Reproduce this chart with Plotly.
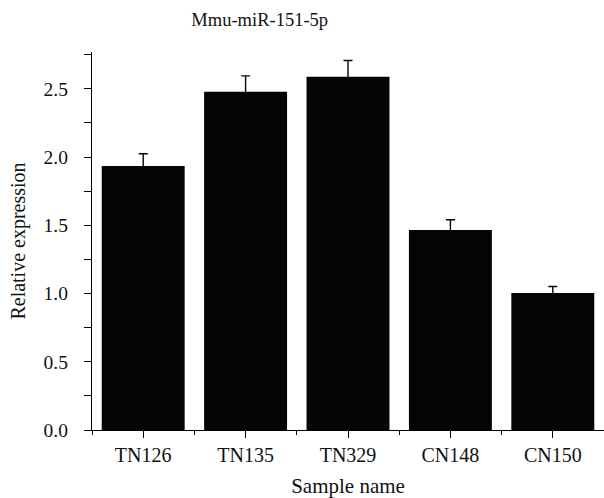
import plotly.graph_objects as go

categories = ["TN126", "TN135", "TN329", "CN148", "CN150"]
values = [1.934, 2.478, 2.588, 1.466, 1.004]
errors = [0.09, 0.117, 0.12, 0.075, 0.048]
title_text = "Mmu-miR-151-5p"
x_title = "Sample name"
y_title = "Relative expression"

xpos = list(range(len(categories)))
FONT = "Liberation Serif"
TXT = "#111111"

fig = go.Figure()
fig.add_trace(go.Bar(
    x=xpos, y=values, width=0.81,
    marker=dict(color="#040404", line=dict(width=0)),
    error_y=dict(type="data", symmetric=True, array=errors,
                 color="#050505", thickness=1.4, width=4.5),
))

fig.update_layout(
    width=604, height=498,
    margin=dict(l=92, r=0, t=52, b=68),
    paper_bgcolor="white", plot_bgcolor="white",
    showlegend=False,
    font=dict(family=FONT, color=TXT, size=18),
    title=dict(text=title_text, x=0.43, xanchor="center", xref="container",
               y=0.96, yanchor="middle", yref="container",
               font=dict(family=FONT, size=18.5, color=TXT)),
    xaxis=dict(
        range=[-0.5, 4.5], tickmode="array", tickvals=xpos, ticktext=categories,
        showline=True, linecolor="black", linewidth=1.3,
        ticks="outside", ticklen=7, tickcolor="black", tickwidth=1.3,
        showgrid=False, zeroline=False, automargin=False,
        tickfont=dict(family=FONT, size=20, color=TXT),
        minor=dict(tickmode="linear", tick0=0.5, dtick=1, ticks="outside",
                   ticklen=4, tickcolor="black", tickwidth=1.3, showgrid=False),
        title=dict(text=x_title, standoff=15,
                   font=dict(family=FONT, size=21, color=TXT)),
        fixedrange=True,
    ),
    yaxis=dict(
        range=[0, 2.77], tick0=0, dtick=0.5, tickformat=".1f",
        showline=True, linecolor="black", linewidth=1.3,
        ticks="outside", ticklen=7, tickcolor="black", tickwidth=1.3,
        showgrid=False, zeroline=False, automargin=False,
        ticklabelstandoff=12,
        tickfont=dict(family=FONT, size=19.5, color=TXT),
        minor=dict(tickmode="linear", tick0=0, dtick=0.25, ticks="outside",
                   ticklen=7, tickcolor="black", tickwidth=1.3, showgrid=False),
        title=dict(text=y_title, standoff=12,
                   font=dict(family=FONT, size=20, color=TXT)),
        fixedrange=True,
    ),
)

fig.write_html("out.html", config={"displayModeBar": False},
               post_script="document.body.style.margin='0';document.body.style.overflow='hidden';")
